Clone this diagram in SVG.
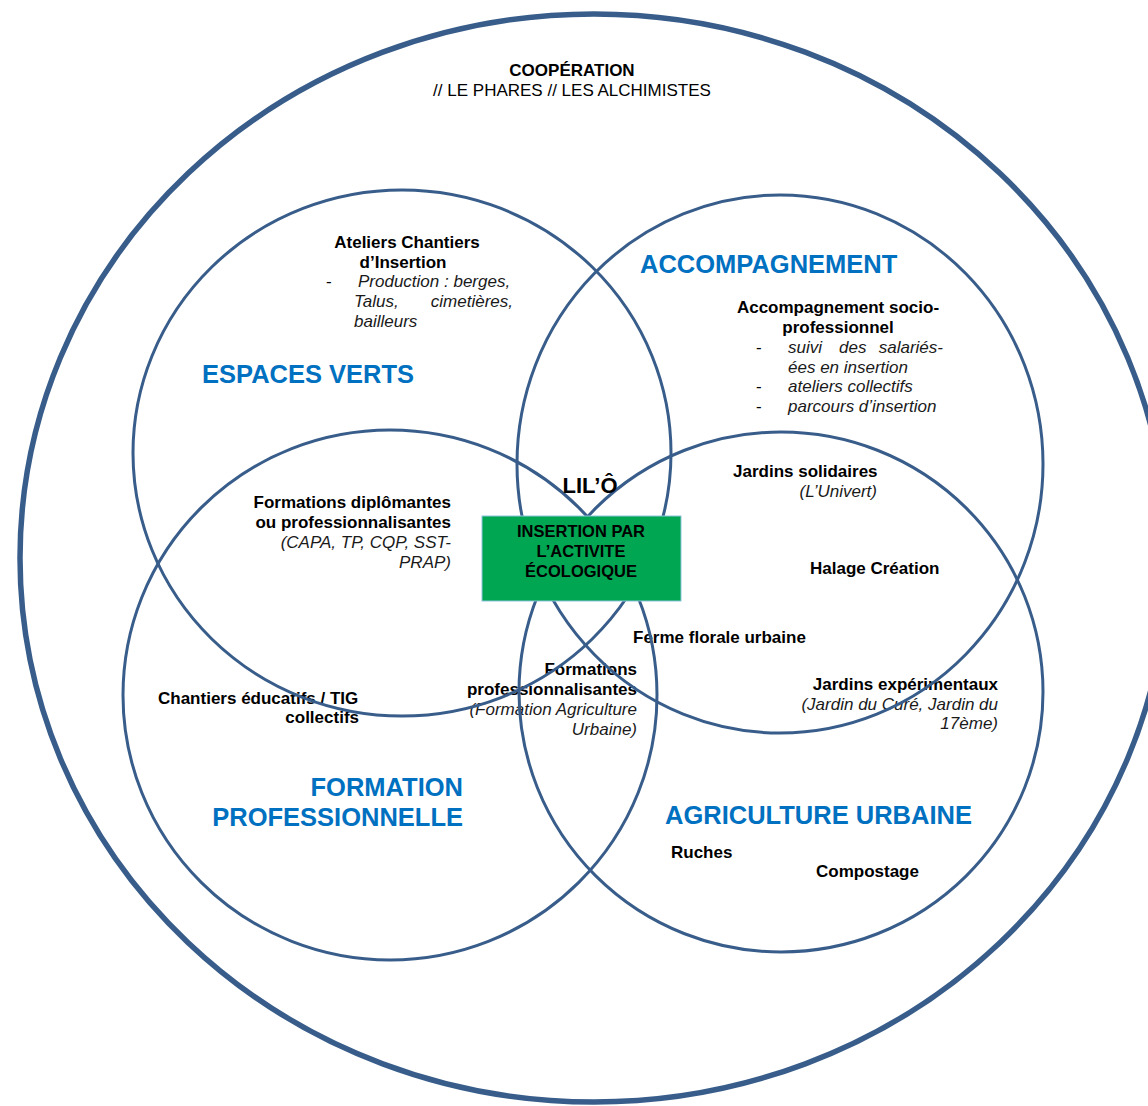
<svg xmlns="http://www.w3.org/2000/svg" width="1148" height="1106" viewBox="0 0 1148 1106">
<style>
  .ring { fill: none; stroke: #385D8A; stroke-width: 3; }
  .outer { fill: none; stroke: #385D8A; stroke-width: 5.5; }
  text { font-family: "Liberation Sans", Arial, sans-serif; fill: #000; }
  .b { font-weight: bold; font-size: 17px; }
  .r { font-size: 17px; }
  .i { font-style: italic; font-size: 17px; fill: #1a1a1a; }
  .h { font-weight: bold; font-size: 25.5px; fill: #0070C0; }
  .box { font-weight: bold; font-size: 16.5px; }
  .e { text-anchor: end; }
  .m { text-anchor: middle; }
</style>
<rect width="1148" height="1106" fill="#ffffff"/>

<g id="cooperation">
  <ellipse class="outer" cx="594" cy="558" rx="574" ry="544"/>
  <text class="b m" x="572" y="76">COOPÉRATION</text>
  <text class="r m" x="572" y="96">// LE PHARES // LES ALCHIMISTES</text>
</g>

<g id="espaces-verts-text">
  <text class="b m" x="407" y="248">Ateliers Chantiers</text>
  <text class="b m" x="403" y="268">d’Insertion</text>
  <text class="r" x="326" y="287">-</text>
  <text class="i" x="358" y="287">Production : berges,</text>
  <text class="i" x="354" y="307">Talus,</text>
  <text class="i e" x="513" y="307">cimetières,</text>
  <text class="i" x="354" y="327">bailleurs</text>
  <text class="h" x="202" y="383">ESPACES VERTS</text>
</g>

<g id="accompagnement-text">
  <text class="h" x="640" y="273">ACCOMPAGNEMENT</text>
  <text class="b m" x="838" y="313">Accompagnement socio-</text>
  <text class="b m" x="838" y="333">professionnel</text>
  <text class="r" x="756" y="353">-</text>
  <text class="i" x="788" y="353">suivi</text>
  <text class="i" x="839" y="353">des</text>
  <text class="i e" x="943" y="353">salariés-</text>
  <text class="i" x="788" y="373">ées en insertion</text>
  <text class="r" x="756" y="392">-</text>
  <text class="i" x="788" y="392">ateliers collectifs</text>
  <text class="r" x="756" y="412">-</text>
  <text class="i" x="788" y="412">parcours d’insertion</text>
</g>

<g id="ev-fp-text">
  <text class="b e" x="451" y="508">Formations diplômantes</text>
  <text class="b e" x="451" y="528">ou professionnalisantes</text>
  <text class="i e" x="451" y="548">(CAPA, TP, CQP, SST-</text>
  <text class="i e" x="451" y="568">PRAP)</text>
</g>

<g id="ac-au-text">
  <text class="b" x="733" y="477">Jardins solidaires</text>
  <text class="i e" x="877" y="497">(L’Univert)</text>
  <text class="b" x="810" y="574">Halage Création</text>
  <text class="b" x="633" y="643">Ferme florale urbaine</text>
  <text class="b e" x="998" y="690">Jardins expérimentaux</text>
  <text class="i e" x="998" y="710">(Jardin du Curé, Jardin du</text>
  <text class="i e" x="998" y="729">17ème)</text>
</g>

<g id="fp-au-text">
  <text class="b e" x="637" y="675">Formations</text>
  <text class="b e" x="637" y="695">professionnalisantes</text>
  <text class="i e" x="637" y="715">(Formation Agriculture</text>
  <text class="i e" x="637" y="735">Urbaine)</text>
</g>

<g id="formation-text">
  <text class="b" x="158" y="704">Chantiers éducatifs / TIG</text>
  <text class="b e" x="359" y="723">collectifs</text>
  <text class="h e" x="463" y="796">FORMATION</text>
  <text class="h e" x="463" y="826">PROFESSIONNELLE</text>
</g>

<g id="agriculture-text">
  <text class="h" x="665" y="824">AGRICULTURE URBAINE</text>
  <text class="b" x="671" y="858">Ruches</text>
  <text class="b" x="816" y="877">Compostage</text>
</g>

<g id="espaces-verts">
  <ellipse class="ring" cx="402" cy="453" rx="269" ry="263"/>
</g>
<g id="accompagnement">
  <ellipse class="ring" cx="780" cy="464" rx="263" ry="269"/>
</g>
<g id="formation-professionnelle">
  <ellipse class="ring" cx="390" cy="695" rx="267" ry="265"/>
</g>
<g id="agriculture-urbaine">
  <ellipse class="ring" cx="781" cy="692" rx="262" ry="260"/>
</g>

<g id="lilo">
  <text class="m" x="590" y="493" style="font-weight:bold;font-size:22px">LIL’Ô</text>
</g>

<g id="insertion">
  <rect x="482" y="516" width="199" height="85" fill="#00A651" stroke="#8FC3DD" stroke-width="1"/>
  <text class="box m" x="581" y="537">INSERTION PAR</text>
  <text class="box m" x="581" y="557">L’ACTIVITE</text>
  <text class="box m" x="581" y="577">ÉCOLOGIQUE</text>
</g>

<g id="connectors"></g>
</svg>
